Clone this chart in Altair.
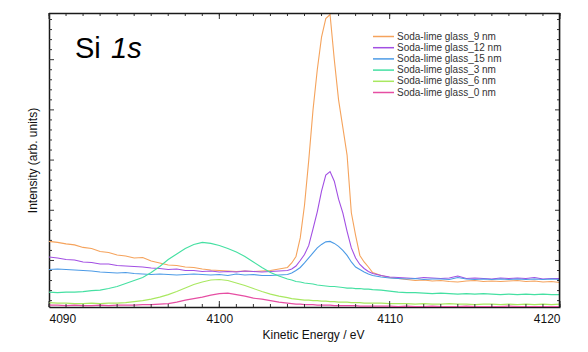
import altair as alt
import pandas as pd

# ---------------- data ----------------
energy = [4090.0, 4090.5, 4091.0, 4091.5, 4092.0, 4092.5, 4093.0, 4093.5, 4094.0, 4094.5,
          4095.0, 4095.5, 4096.0, 4096.5, 4097.0, 4097.5, 4098.0, 4098.5, 4099.0, 4099.5,
          4100.0, 4100.5, 4101.0, 4101.5, 4102.0, 4102.5, 4103.0, 4103.5,
          4104.0, 4104.25, 4104.5, 4104.75, 4105.0, 4105.25, 4105.5, 4105.75, 4106.0, 4106.25,
          4106.5, 4106.75, 4107.0, 4107.25, 4107.5, 4107.75, 4108.0, 4108.25, 4108.5, 4108.75,
          4109.0,
          4109.5, 4110.0, 4110.5, 4111.0, 4111.5, 4112.0, 4112.5, 4113.0, 4113.5, 4114.0,
          4114.5, 4115.0, 4115.5, 4116.0, 4116.5, 4117.0, 4117.5, 4118.0, 4118.5, 4119.0,
          4119.5, 4120.0]

glass_9nm = [1.38, 1.36, 1.33, 1.31, 1.26, 1.24, 1.18, 1.16, 1.11, 1.09,
             1.05, 1.06, 0.99, 0.95, 0.91, 0.90, 0.87, 0.86, 0.83, 0.81,
             0.80, 0.79, 0.78, 0.79, 0.78, 0.79, 0.80, 0.83,
             0.86, 0.95, 1.08, 1.45, 2.10, 3.00, 4.00, 4.80, 5.45, 5.82,
             5.90, 5.00, 4.20, 3.65, 3.10, 1.95, 1.50, 1.10, 0.97, 0.87,
             0.76,
             0.70, 0.66, 0.64, 0.62, 0.60, 0.61, 0.59, 0.60, 0.58, 0.57,
             0.59, 0.60, 0.58, 0.59, 0.58, 0.59, 0.60, 0.58, 0.59, 0.57,
             0.58, 0.56]

glass_12nm = [1.07, 1.05, 1.02, 1.01, 0.97, 0.96, 0.93, 0.93, 0.90, 0.89,
              0.88, 0.87, 0.85, 0.84, 0.82, 0.83, 0.80, 0.80, 0.78, 0.79,
              0.77, 0.78, 0.77, 0.79, 0.78, 0.77, 0.78, 0.79,
              0.80, 0.83, 0.89, 1.00, 1.12, 1.30, 1.63, 1.97, 2.38, 2.70,
              2.77, 2.58, 2.22, 1.95, 1.58, 1.25, 1.05, 0.92, 0.84, 0.78,
              0.74,
              0.70, 0.67, 0.66, 0.65, 0.64, 0.66, 0.65, 0.64, 0.65, 0.69,
              0.64, 0.65, 0.64, 0.63, 0.65, 0.64, 0.65, 0.64, 0.66, 0.63,
              0.64, 0.64]

glass_15nm = [0.82, 0.83, 0.82, 0.81, 0.80, 0.79, 0.77, 0.76, 0.75, 0.76,
              0.74, 0.73, 0.72, 0.73, 0.72, 0.71, 0.72, 0.73, 0.72, 0.71,
              0.72, 0.70, 0.73, 0.71, 0.72, 0.70, 0.70, 0.71,
              0.72, 0.75, 0.80, 0.86, 0.95, 1.05, 1.15, 1.25, 1.32, 1.37,
              1.38, 1.34, 1.28, 1.20, 1.10, 0.97, 0.87, 0.82, 0.77, 0.73,
              0.70,
              0.67, 0.65, 0.64, 0.63, 0.64, 0.62, 0.63, 0.63, 0.62, 0.66,
              0.63, 0.62, 0.63, 0.62, 0.63, 0.62, 0.63, 0.62, 0.63, 0.62,
              0.63, 0.62]

glass_3nm = [0.37, 0.36, 0.37, 0.37, 0.38, 0.40, 0.41, 0.44, 0.48, 0.54,
             0.60, 0.66, 0.76, 0.88, 1.02, 1.13, 1.24, 1.32, 1.36, 1.34,
             1.30, 1.24, 1.17, 1.08, 0.97, 0.86, 0.76, 0.69,
             0.63, 0.61, 0.58, 0.57, 0.55, 0.54, 0.53, 0.51, 0.50, 0.49,
             0.48, 0.48, 0.47, 0.46, 0.45, 0.45, 0.44, 0.44, 0.43, 0.43,
             0.42,
             0.41, 0.39, 0.37, 0.36, 0.36, 0.35, 0.34, 0.35, 0.34, 0.33,
             0.34, 0.33, 0.34, 0.33, 0.32, 0.33, 0.32, 0.33, 0.32, 0.33,
             0.32, 0.32]

glass_6nm = [0.16, 0.15, 0.15, 0.14, 0.14, 0.15, 0.14, 0.15, 0.15, 0.16,
             0.18, 0.20, 0.23, 0.27, 0.32, 0.38, 0.45, 0.52, 0.57, 0.61,
             0.62, 0.60, 0.55, 0.50, 0.44, 0.38, 0.33, 0.29,
             0.26, 0.24, 0.23, 0.22, 0.21, 0.21, 0.20, 0.20, 0.19, 0.19,
             0.18, 0.18, 0.17, 0.17, 0.17, 0.16, 0.16, 0.16, 0.15, 0.15,
             0.15,
             0.15, 0.14, 0.14, 0.14, 0.13, 0.14, 0.13, 0.13, 0.14, 0.13,
             0.13, 0.12, 0.13, 0.13, 0.12, 0.13, 0.12, 0.13, 0.12, 0.13,
             0.12, 0.13]

glass_0nm = [0.11, 0.11, 0.10, 0.11, 0.10, 0.10, 0.11, 0.10, 0.11, 0.11,
             0.11, 0.12, 0.12, 0.13, 0.14, 0.17, 0.21, 0.24, 0.27, 0.31,
             0.34, 0.35, 0.32, 0.29, 0.25, 0.23, 0.20, 0.17,
             0.15, 0.14, 0.13, 0.13, 0.12, 0.12, 0.12, 0.11, 0.11, 0.11,
             0.11, 0.10, 0.10, 0.10, 0.10, 0.10, 0.10, 0.09, 0.09, 0.09,
             0.09,
             0.09, 0.09, 0.08, 0.09, 0.08, 0.08, 0.09, 0.08, 0.08, 0.08,
             0.09, 0.08, 0.08, 0.08, 0.08, 0.09, 0.08, 0.08, 0.08, 0.08,
             0.08, 0.08]

series_names = ["Soda-lime glass_9 nm", "Soda-lime glass_12 nm", "Soda-lime glass_15 nm",
                "Soda-lime glass_3 nm", "Soda-lime glass_6 nm", "Soda-lime glass_0 nm"]
series_values = [glass_9nm, glass_12nm, glass_15nm, glass_3nm, glass_6nm, glass_0nm]
series_colors = ["#f5a35c", "#a24fe3", "#4d9be6", "#45e0a2", "#a9e860", "#e64ea3"]

x_range = [4090, 4120]
y_range = [0.073, 5.93]
x_labels = [4090, 4100, 4110, 4120]
x_minor_ticks = list(range(4090, 4121))
y_major_ticks = [1, 2, 3, 4, 5]
y_minor_ticks = [0.2, 0.4, 0.6, 0.8, 1.2, 1.4, 1.6, 1.8, 2.2, 2.4, 2.6, 2.8,
                 3.2, 3.4, 3.6, 3.8, 4.2, 4.4, 4.6, 4.8, 5.2, 5.4, 5.6, 5.8]

# ---------------- build tables ----------------
rows = []
for name, vals in zip(series_names, series_values):
    for e, v in zip(energy, vals):
        rows.append({"energy": e, "intensity": v, "sample": name})
df = pd.DataFrame(rows)

W, H = 511, 294
FONT = "Liberation Sans"
FRAME = "#1a1a1a"

xscale = alt.Scale(domain=x_range, nice=False, zero=False)
yscale = alt.Scale(domain=y_range, nice=False, zero=False)

lines = alt.Chart(df).mark_line(strokeWidth=1.1, clip=True).encode(
    x=alt.X("energy:Q", scale=xscale,
            axis=alt.Axis(values=x_labels, ticks=False, domain=True, domainColor=FRAME,
                          domainWidth=1.5, grid=False,
                          labelFont=FONT, labelFontSize=12, labelColor="#111",
                          labelPadding=6, format="d",
                          title="Kinetic Energy  / eV", titleFont=FONT,
                          titleFontSize=12, titleFontWeight="normal", titleColor="#111",
                          titlePadding=5, titleX=264)),
    y=alt.Y("intensity:Q", scale=yscale,
            axis=alt.Axis(labels=False, ticks=False, domain=True, domainColor=FRAME,
                          domainWidth=1.5, grid=False,
                          title="Intensity (arb. units)", titleFont=FONT,
                          titleFontSize=12, titleFontWeight="normal", titleColor="#111",
                          titlePadding=10)),
    color=alt.Color("sample:N", sort=series_names,
                    scale=alt.Scale(domain=series_names, range=series_colors),
                    legend=None),
    order=alt.Order("energy:Q"),
)

tick_x_df = pd.DataFrame({"e": x_minor_ticks})
tick_x_major_df = pd.DataFrame({"e": x_labels})
tick_y_df = pd.DataFrame({"v": y_minor_ticks})
tick_y_major_df = pd.DataFrame({"v": y_major_ticks})

tick_color = "#333"


def xticks(data, length):
    bottom = alt.Chart(data).mark_rule(color=tick_color, strokeWidth=1).encode(
        x=alt.X("e:Q", scale=xscale), y=alt.value(H), y2=alt.value(H - length))
    top = alt.Chart(data).mark_rule(color=tick_color, strokeWidth=1).encode(
        x=alt.X("e:Q", scale=xscale), y=alt.value(0), y2=alt.value(length))
    return bottom + top


def yticks(data, length):
    left = alt.Chart(data).mark_rule(color=tick_color, strokeWidth=1).encode(
        y=alt.Y("v:Q", scale=yscale), x=alt.value(0), x2=alt.value(length))
    right = alt.Chart(data).mark_rule(color=tick_color, strokeWidth=1).encode(
        y=alt.Y("v:Q", scale=yscale), x=alt.value(W), x2=alt.value(W - length))
    return left + right


# top and right edges of the frame, drawn through the x / y scales
top_edge_df = pd.DataFrame({"e": x_range})
right_edge_df = pd.DataFrame({"v": y_range})
frame = [
    alt.Chart(top_edge_df).mark_line(color=FRAME, strokeWidth=1.5).encode(
        x=alt.X("e:Q", scale=xscale), y=alt.value(0.5)),
    alt.Chart(right_edge_df).mark_line(color=FRAME, strokeWidth=1.5).encode(
        y=alt.Y("v:Q", scale=yscale), x=alt.value(W - 0.5)),
]

one = pd.DataFrame({"k": [0]})

# manual legend (inside the plot, top right)
legend_layers = []
for i, (name, col) in enumerate(zip(series_names, series_colors)):
    ly = 23.5 + 11.2 * i
    legend_layers.append(
        alt.Chart(one).mark_rule(color=col, strokeWidth=1.5).encode(
            x=alt.value(324), x2=alt.value(345), y=alt.value(ly)))
    legend_layers.append(
        alt.Chart(one).mark_text(text=name, font=FONT, fontSize=10, align="left",
                                 baseline="middle", color="#333").encode(
            x=alt.value(348), y=alt.value(ly)))

title_si = alt.Chart(one).mark_text(
    text="Si", font=FONT, fontSize=29, align="left", baseline="alphabetic", color="#000"
).encode(x=alt.value(26), y=alt.value(45))
title_1s = alt.Chart(one).mark_text(
    text="1s", font=FONT, fontSize=29, fontStyle="italic", align="left",
    baseline="alphabetic", color="#000"
).encode(x=alt.value(62), y=alt.value(45))

chart = alt.layer(
    lines,
    xticks(tick_x_df, 3), xticks(tick_x_major_df, 6),
    yticks(tick_y_df, 3), yticks(tick_y_major_df, 5),
    *frame, title_si, title_1s, *legend_layers,
).properties(
    width=W, height=H,
    autosize=alt.AutoSizeParams(type="none"),
    padding={"left": 49, "top": 13, "right": 28, "bottom": 45},
).configure_view(
    stroke=None
).configure(background="white")

chart.save("out.html", embed_options={"renderer": "svg", "actions": False})
